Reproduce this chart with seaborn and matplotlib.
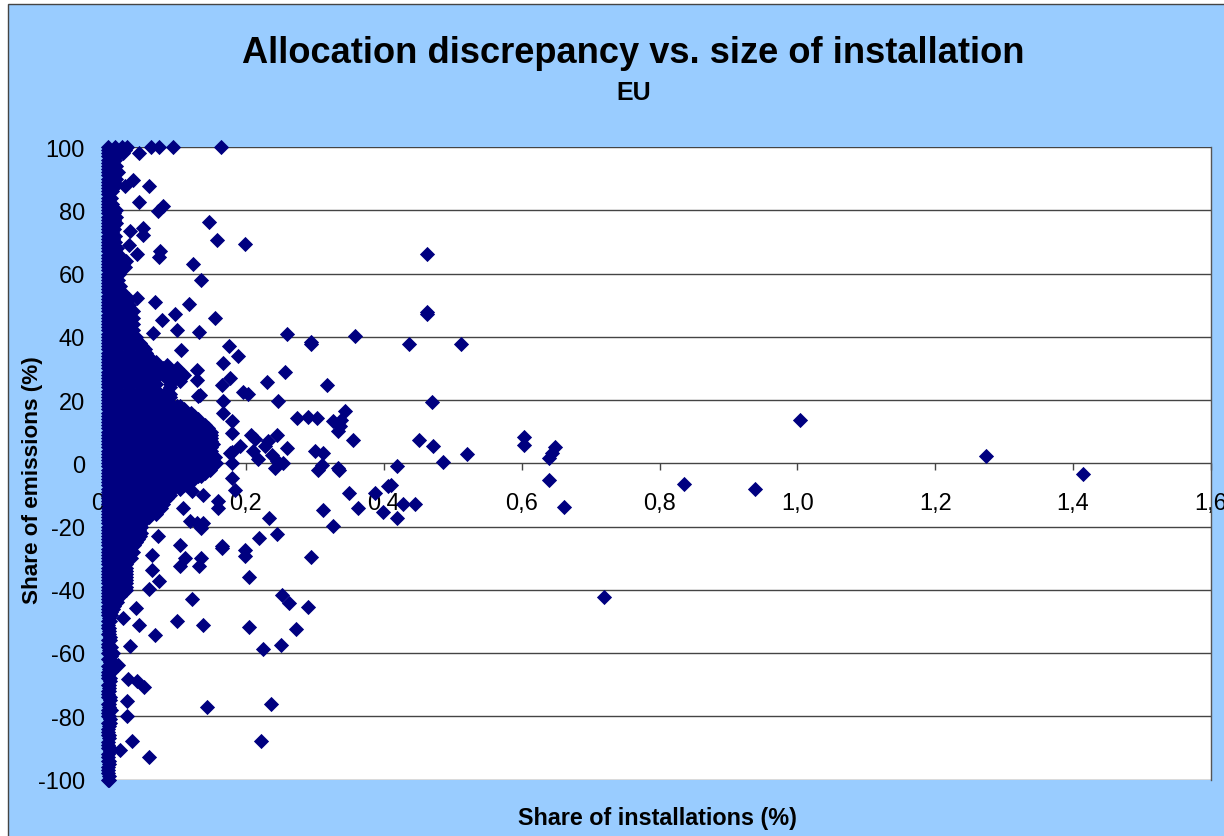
import pandas as pd
import matplotlib
matplotlib.use('Agg')
import matplotlib.pyplot as plt
from matplotlib.patches import Rectangle
import seaborn as sns

# Solid cloud of installations close to zero, one list of shares per emission level
cloud_levels = [100, 98, 96, 94, 92, 90, 88, 86, 84, 82, 80, 78, 76, 74, 72, 70, 68, 66, 64, 62,
                60, 58, 56, 54, 52, 50, 48, 46, 44, 42, 40, 38, 36, 34, 32, 30, 28, 26, 24, 22,
                20, 18, 16, 14, 12, 10, 8, 6, 4, 2, 0, -2, -4, -6, -8, -10, -12, -14, -16, -18,
                -20, -22, -24, -26, -28, -30, -32, -34, -36, -38, -40, -42, -44, -46, -48, -50,
                -52, -54, -56, -58, -60, -62, -64, -66, -68, -70, -72, -74, -76, -78, -80, -82,
                -84, -86, -88, -90, -92, -94, -96, -98, -100]
cloud_shares = [
    [0, .01, .02, .027], [0, .01, .022], [0, .01], [0, .012], [0, .014], [0, .012], [0, .012],
    [0, .006], [0, .004], [0, .006], [0, .011], [0, .012], [0, .011], [0, .008], [0, .01], [0, .01],
    [0, .013], [0, .015], [0, .02, .026], [0, .012, .025], [0, .016], [0, .014], [0, .012, .018],
    [0, .02], [0, .012, .03], [0, .02, .03], [0, .012, .03, .036], [0, .02, .036],
    [0, .012, .03, .036], [0, .02, .036], [0, .012, .03, .04], [0, .02, .04, .046],
    [0, .012, .03, .05, .054], [0, .02, .04, .058], [0, .012, .03, .05, .06, .07],
    [0, .02, .04, .06, .08, .1], [0, .012, .03, .05, .065, .08, .1, .11],
    [0, .02, .04, .058, .09, .105], [0, .012, .03, .05, .06, .09],
    [0, .02, .04, .06, .075, .09], [0, .012, .03, .05, .07, .085],
    [0, .02, .04, .06, .08, .1, .105], [0, .012, .03, .05, .07, .09, .11, .12],
    [0, .02, .04, .06, .08, .1, .12, .13], [0, .012, .03, .05, .07, .09, .11, .13, .14],
    [0, .02, .04, .06, .08, .1, .12, .14, .15], [0, .012, .03, .05, .07, .09, .11, .13, .15],
    [0, .02, .04, .06, .08, .1, .12, .14, .152], [0, .012, .03, .05, .07, .09, .11, .13, .15],
    [0, .02, .04, .06, .08, .1, .12, .14, .155], [0, .012, .03, .05, .07, .09, .11, .13, .15, .157],
    [0, .02, .04, .06, .08, .1, .12, .14, .148], [0, .012, .03, .05, .07, .09, .11, .13, .135],
    [0, .02, .04, .06, .08, .1, .115], [0, .012, .03, .05, .07, .09, .105],
    [0, .02, .04, .06, .08, .09], [0, .012, .03, .05, .07, .08], [0, .02, .04, .06, .077],
    [0, .012, .03, .05, .07], [0, .02, .04, .05], [0, .012, .03, .048], [0, .02, .04, .048],
    [0, .012, .03, .044], [0, .02, .038], [0, .012, .03, .036], [0, .02, .033], [0, .012, .026],
    [0, .02, .026], [0, .012, .026], [0, .02, .026], [0, .012, .026], [0, .018], [0, .013],
    [0, .007], [0, .004], [0, .003], [0, .002], [0, .002], [0, .003], [0, .004], [0, .007], [0, .003],
    [0, .002], [0, .004], [0, .003], [0, .002], [0, .002], [0, .003], [0, .002], [0, .004], [0, .002],
    [0, .003], [0], [0, .002], [0], [0, .003], [0], [0, .002], [0], [0], [0, .002],
]

# More of the cloud, on the levels in between
between_levels = [99, 97, 95, 93, 91, 89, 87, 85, 83, 81, 79, 77, 75, 73, 71, 69, 67, 65, 63, 61,
                  59, 57, 55, 53, 51, 49, 47, 45, 43, 41, 39, 37, 35, 33, 31, 29, 27, 25, 23, 21,
                  19, 17, 15, 13, 11, 9, 7, 5, 3, 1, -1, -3, -5, -7, -9, -11, -13, -15, -17, -19,
                  -21, -23, -25, -27, -29, -31, -33, -35, -37, -39, -41, -43, -45, -47]
between_shares = [
    [0, .012, .024], [0, .012], [0, .006], [0, .008], [0, .008], [0, .008], [0, .005], [0], [0],
    [0, .006], [0, .008], [0, .008], [0, .007], [0, .006], [0, .007], [0, .008], [0, .01],
    [0, .012, .02], [0, .012, .022], [0, .012], [0, .01], [0, .01], [0, .012], [0, .012, .022],
    [0, .012, .026], [0, .012, .028], [0, .012, .03], [0, .012, .03], [0, .012, .03], [0, .012, .03],
    [0, .012, .03, .04], [0, .012, .03, .05], [0, .012, .03, .05, .055], [0, .012, .03, .05, .06],
    [0, .012, .03, .05, .07, .085], [0, .012, .03, .05, .07, .09, .105],
    [0, .012, .03, .05, .07, .085, .105], [0, .012, .03, .05, .07, .09], [0, .012, .03, .05, .07, .085],
    [0, .012, .03, .05, .07, .09], [0, .012, .03, .05, .07, .09], [0, .012, .03, .05, .07, .09, .11],
    [0, .012, .03, .05, .07, .09, .11, .125], [0, .012, .03, .05, .07, .09, .11, .13],
    [0, .012, .03, .05, .07, .09, .11, .13, .145], [0, .012, .03, .05, .07, .09, .11, .13, .15],
    [0, .012, .03, .05, .07, .09, .11, .13, .15], [0, .012, .03, .05, .07, .09, .11, .13, .15],
    [0, .012, .03, .05, .07, .09, .11, .13, .15], [0, .012, .03, .05, .07, .09, .11, .13, .15],
    [0, .012, .03, .05, .07, .09, .11, .13, .15], [0, .012, .03, .05, .07, .09, .11, .13, .14],
    [0, .012, .03, .05, .07, .09, .11, .125], [0, .012, .03, .05, .07, .09, .11],
    [0, .012, .03, .05, .07, .09], [0, .012, .03, .05, .07, .085], [0, .012, .03, .05, .07, .08],
    [0, .012, .03, .05, .07], [0, .012, .03, .05, .06], [0, .012, .03, .05], [0, .012, .03, .045],
    [0, .012, .03, .046], [0, .012, .03, .04], [0, .012, .03], [0, .012, .03], [0, .012, .026],
    [0, .012, .026], [0, .012, .026], [0, .012, .026], [0, .012, .026], [0, .012, .02], [0, .012],
    [0, .008], [0, .004],
]

# Thin strip along the axis further down
strip_levels = [-49, -51, -53, -55, -57, -59, -61, -63, -65, -67, -69, -71, -73, -75, -77, -79, -81,
                -83, -85, -87, -89, -91, -93, -95, -97, -99]
strip_shares = [.002, 0, .002, .003, 0, .002, .004, .003, .002, 0, .003, .002, 0, .003, .002, 0, .003,
                .002, 0, .002, 0, .003, 0, .002, 0, .002]

# Separate points above the zero line
upper_x = [.062, .074, .094, .164, .045, .060, .045, .080, .073, .147, .158, .199, .123, .135, .068,
           .118, .155, .097, .260, .295, .295, .358, .176, .132, .106, .257, .231, .318, .189, .167,
           .177, .196, .203, .247, .131, .274, .290, .303, .344, .326, .334, .356, .338, .337, .245,
           .213, .300, .312, .180, .180, .167, .167, .165, .129, .129, .100, .078, .065, .051, .051,
           .032, .075, .074, .042, .030, .036, .025, .042, .191, .177, .210, .228, .238, .260, .245,
           .180, .254, .208, .232, .134, .180, .218,
           .463, .463, .463, .437, .512, .470, .451, .472, .486, .521, .604, .604, .649, .644, .640]
upper_y = [100, 100, 100, 100, 98.2, 87.8, 82.7, 81.4, 79.8, 76.4, 70.7, 69.4, 63.1, 58.0, 51.1,
           50.4, 46.0, 47.3, 40.9, 38.4, 37.8, 40.3, 37.1, 41.6, 35.9, 28.9, 25.7, 24.8, 34.0, 31.7,
           27.0, 22.6, 21.9, 19.7, 21.3, 14.3, 14.7, 14.3, 16.6, 13.4, 10.2, 7.4, 13.7, 11.8, 9.0,
           7.7, 3.9, 3.3, 9.6, 13.4, 15.9, 19.7, 24.8, 29.5, 26.4, 42.2, 45.3, 41.2, 74.5, 72.2,
           73.5, 67.2, 65.3, 66.2, 69.1, 89.7, 87.8, 52.3, 5.5, 3.3, 3.9, 5.5, 2.6, 4.8, 0.7,
           0.1, 0.1, 8.9, 7.0, 21.5, 3.5, 1.2,
           66.2, 47.9, 47.2, 37.8, 37.8, 19.4, 7.4, 5.5, 0.4, 2.9, 8.3, 5.8, 5.2, 3.3, 1.7]

# Separate points below the zero line
lower_x = [.242, .305, .310, .334, .335, .350, .388, .363, .312, .406, .327, .234, .245, .219, .295,
           .199, .199, .165, .165, .135, .132, .205, .104, .112, .104, .073, .129, .138, .119, .160,
           .160, .184, .180, .138, .122, .064, .064, .074, .060, .122, .041, .022, .045, .068, .100,
           .138, .205, .252, .262, .290, .272, .251, .225, .032, .015, .029, .042, .052, .028, .028,
           .144, .237, .035, .017, .060, .222, .135, .109,
           .419, .411, .428, .446, .419, .399, .640, .662, .720, .836]
lower_y = [-1.5, -2.1, -0.5, -1.5, -2.1, -9.4, -9.4, -14.1, -14.8, -7.2, -19.8, -17.3, -22.4, -23.6,
           -29.6, -27.4, -29.3, -26.1, -26.8, -30.0, -32.5, -36.0, -32.5, -30.0, -25.9, -23.0, -18.9,
           -18.9, -18.3, -11.9, -14.1, -8.4, -4.6, -10.0, -8.8, -29.0, -33.8, -37.2, -39.8, -42.9,
           -45.8, -49.0, -51.2, -54.3, -49.9, -51.2, -51.8, -41.7, -44.2, -45.5, -52.4, -57.5, -58.8,
           -57.8, -63.8, -68.3, -68.9, -70.8, -75.2, -80.0, -77.1, -76.2, -87.9, -90.7, -92.9, -87.9,
           -20.5, -14.0,
           -0.9, -6.9, -12.8, -12.8, -17.3, -15.4, -5.3, -13.8, -42.3, -6.5]

# The few very large installations on the right
large_x = [.938, 1.004, 1.273, 1.415]
large_y = [-8.1, 13.7, 2.3, -3.3]

x_ticks = [0, .2, .4, .6, .8, 1.0, 1.2, 1.4, 1.6]
x_tick_labels = ['0,0', '0,2', '0,4', '0,6', '0,8', '1,0', '1,2', '1,4', '1,6']
y_ticks = [100, 80, 60, 40, 20, 0, -20, -40, -60, -80, -100]
y_tick_labels = ['100', '80', '60', '40', '20', '0', '-20', '-40', '-60', '-80', '-100']

# Put everything into one table for seaborn
rows = []
for level, shares in zip(cloud_levels + between_levels, cloud_shares + between_shares):
    for share in shares:
        rows.append((share, level))
rows += [(s, l) for s, l in zip(strip_shares, strip_levels)]
rows += list(zip(upper_x, upper_y)) + list(zip(lower_x, lower_y)) + list(zip(large_x, large_y))
df = pd.DataFrame(rows, columns=['installations', 'emissions'])

sns.set_style('white')
plt.rcParams['font.family'] = ['Liberation Sans', 'DejaVu Sans']

W, H = 1224, 837
fig = plt.figure(figsize=(W / 100, H / 100), dpi=100, facecolor='white')
# Light blue chart area with its border, it runs off the right and bottom of the picture
fig.add_artist(Rectangle((8 / W, -0.1), 1.1, 1.1 - 5 / H, transform=fig.transFigure,
                         facecolor='#99CCFF', edgecolor='#444444', linewidth=1, zorder=-1))

ax = fig.add_axes([108 / W, 1 - 780.5 / H, 1103 / W, 632.5 / H], facecolor='white')
ax.hlines(y_ticks, 0, 1.6, color='#444444', linewidth=1, zorder=0.5)
sns.scatterplot(data=df, x='installations', y='emissions', marker='D', s=60, color='#000080',
                linewidth=0, clip_on=False, zorder=1, ax=ax)

ax.set_xlim(0, 1.6)
ax.set_ylim(-100, 100)
ax.set_xticks(x_ticks)
ax.set_xticklabels(x_tick_labels)
ax.set_yticks(y_ticks)
ax.set_yticklabels(y_tick_labels)
ax.tick_params(axis='x', length=5, width=1, color='#444444', pad=16, labelsize=17, labelcolor='black', bottom=True)
ax.tick_params(axis='y', length=1, width=1, color='#444444', pad=15.5, labelsize=17, labelcolor='black', left=True)

ax.spines['bottom'].set_position(('data', 0))
ax.spines['top'].set_visible(False)
ax.spines['left'].set_visible(False)
ax.spines['bottom'].set_visible(False)
ax.spines['right'].set_color('#555555')
ax.spines['right'].set_linewidth(1)
ax.set_xlabel('')
ax.set_ylabel('')

fig.text(633 / W, 1 - 53.5 / H, 'Allocation discrepancy vs. size of installation', ha='center', va='center',
         fontsize=26.1, fontweight='bold', color='black')
fig.text(634 / W, 1 - 93 / H, 'EU', ha='center', va='center', fontsize=18, fontweight='bold', color='black')
fig.text(657 / W, 1 - 819 / H, 'Share of installations (%)', ha='center', va='center',
         fontsize=16.8, fontweight='bold', color='black')
fig.text(33 / W, 1 - 480 / H, 'Share of emissions (%)', ha='center', va='center', rotation=90,
         fontsize=16.2, fontweight='bold', color='black')

fig.savefig('out.png', dpi=100, facecolor=fig.get_facecolor())
